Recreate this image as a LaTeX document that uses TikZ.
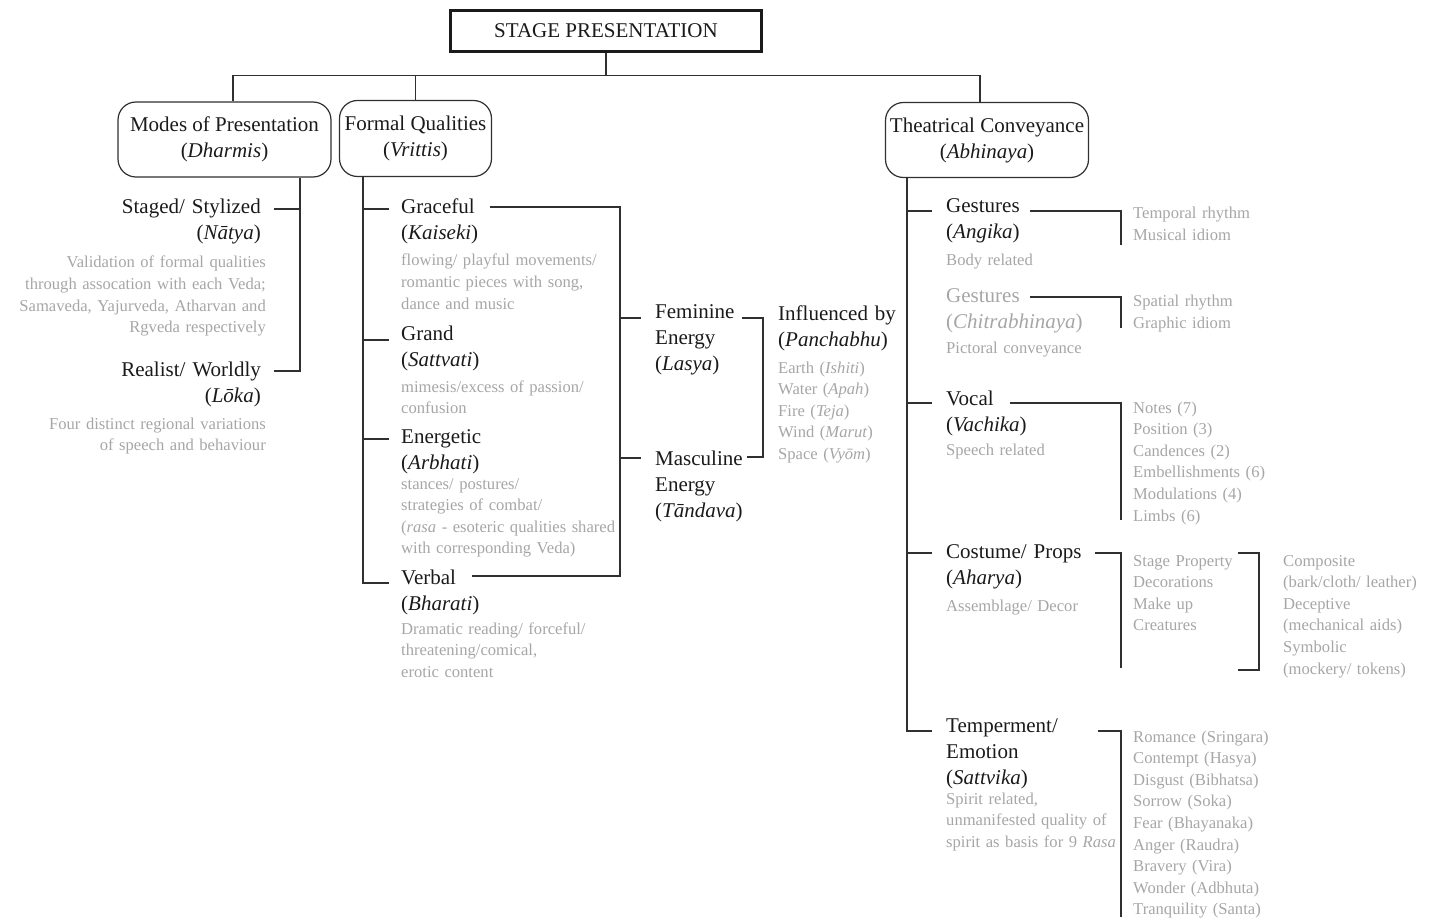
\documentclass[tikz,border=0pt]{standalone}
\usepackage{fontspec}
\setmainfont{Liberation Serif}
\usetikzlibrary{calc}
\definecolor{ink}{HTML}{1A1A1A}
\definecolor{soft}{HTML}{A6A6A6}
\definecolor{linec}{HTML}{303030}
\begin{document}
\begin{tikzpicture}[x=1pt,y=-1pt,
	wire/.style={draw=linec,line width=1.2pt},
	lbl/.style={inner sep=0pt,text=ink,font=\fontsize{21}{26}\selectfont,text width=280pt,align=left},
	gloss/.style={inner sep=0pt,text=soft,font=\fontsize{16.6}{21.6}\selectfont,text width=280pt,align=left},
	headbox/.style={draw=linec,line width=1.2pt,rounded corners=18pt,minimum height=75pt,inner sep=0pt,align=center,text=ink,font=\fontsize{21}{26}\selectfont}]
	\useasboundingbox (0,0) rectangle (1436,920);
	% top of the tree
	\node[draw=ink,line width=2.6pt,minimum width=311pt,minimum height=41.5pt,inner sep=0pt,text=ink,font=\fontsize{21}{24}\selectfont] (stage) at (606,31) {STAGE PRESENTATION};
	\node[headbox,minimum width=213pt] (modes) at (224.5,139.5) {Modes of Presentation\\(\textit{Dharmis})};
	\node[headbox,minimum width=152pt,minimum height=76pt] (quals) at (415.5,138.5) {Formal Qualities\\(\textit{Vrittis})};
	\node[headbox,minimum width=203pt] (theat) at (987,140) {Theatrical Conveyance\\(\textit{Abhinaya})};
	\coordinate (bus) at (0,76);
	\draw[wire] (stage.south) -- (stage.south |- bus);
	\draw[wire] ([xshift=8.5pt]modes.north) -- ++(0,-26) -| ([xshift=-7pt]theat.north);
	\draw[wire] (quals.north) -- (quals.north |- bus);
	% modes of presentation
	\node[lbl,anchor=base east,align=right] (natya) at (261,214) {Staged/ Stylized\\(\textit{Nātya})};
	\node[gloss,anchor=base east,align=right] (natyan) at (266,268) {Validation of formal qualities\\through assocation with each Veda;\\Samaveda, Yajurveda, Atharvan and\\Rgveda respectively};
	\node[lbl,anchor=base east,align=right] (loka) at (261,376) {Realist/ Worldly\\(\textit{Lōka})};
	\node[gloss,anchor=base east,align=right] (lokan) at (266,429) {Four distinct regional variations\\of speech and behaviour};
	\coordinate (mx) at (300,0);
	\draw[wire] (modes.south -| mx) |- ($(loka.base east)+(13,-5)$);
	\draw[wire] ($(natya.base east)+(13,-5)$) -- ++(26,0);
	% formal qualities
	\node[lbl,anchor=base west] (kaiseki) at (401,214) {Graceful\\(\textit{Kaiseki})};
	\node[gloss,anchor=base west] (kaisekin) at (401,266) {flowing/ playful movements/\\romantic pieces with song,\\dance and music};
	\node[lbl,anchor=base west] (sattvati) at (401,340) {Grand\\(\textit{Sattvati})};
	\node[gloss,anchor=base west] (sattvatin) at (401,392) {mimesis/excess of passion/\\confusion};
	\node[lbl,anchor=base west] (arbhati) at (401,443) {Energetic\\(\textit{Arbhati})};
	\node[gloss,anchor=base west] (arbhatin) at (401,489) {stances/ postures/\\strategies of combat/\\(\textit{rasa} - esoteric qualities shared\\with corresponding Veda)};
	\node[lbl,anchor=base west] (bharati) at (401,584) {Verbal\\(\textit{Bharati})};
	\node[gloss,anchor=base west] (bharatin) at (401,634) {Dramatic reading/ forceful/\\threatening/comical,\\erotic content};
	\coordinate (qx) at (363,0);
	\draw[wire] (quals.south -| qx) |- ($(bharati.base west)+(-12,-1)$);
	\foreach \n/\d in {kaiseki/5,sattvati/0,arbhati/4}
		\draw[wire] ($(\n.base west)+(-12,-\d)$) -- ++(-26,0);
	\draw[wire] ($(kaiseki.base west)+(89,-7)$) -| ($(bharati.base west)+(219,-8)$) -- ($(bharati.base west)+(71,-8)$);
	% energies
	\node[lbl,anchor=base west] (lasya) at (655,319) {Feminine\\Energy\\(\textit{Lasya})};
	\node[lbl,anchor=base west] (tandava) at (655,465) {Masculine\\Energy\\(\textit{Tāndava})};
	\draw[wire] ($(lasya.base west)+(-14,-1)$) -- ++(-21,0);
	\draw[wire] ($(tandava.base west)+(-14,-7)$) -- ++(-21,0);
	\draw[wire] ($(lasya.base west)+(87,-1)$) -| ($(tandava.base west)+(108,-8)$) -- ($(tandava.base west)+(92,-8)$);
	\node[lbl,anchor=base west] (pancha) at (778,320) {Influenced by\\(\textit{Panchabhu})};
	\node[gloss,anchor=base west] (panchan) at (778,373) {Earth (\textit{Ishiti})\\Water (\textit{Apah})\\Fire (\textit{Teja})\\Wind (\textit{Marut})\\Space (\textit{Vyōm})};
	% theatrical conveyance
	\node[lbl,anchor=base west] (angika) at (946,213) {Gestures\\(\textit{Angika})};
	\node[gloss,anchor=base west] (angikan) at (946,266) {Body related};
	\node[lbl,anchor=base west,text=soft] (chitra) at (946,302) {Gestures\\(\textit{Chitrabhinaya})};
	\node[gloss,anchor=base west] (chitran) at (946,353) {Pictoral conveyance};
	\node[lbl,anchor=base west] (vachika) at (946,405) {Vocal\\(\textit{Vachika})};
	\node[gloss,anchor=base west] (vachikan) at (946,455) {Speech related};
	\node[lbl,anchor=base west] (aharya) at (946,558) {Costume/ Props\\(\textit{Aharya})};
	\node[gloss,anchor=base west] (aharyan) at (946,611) {Assemblage/ Decor};
	\node[lbl,anchor=base west] (sattvika) at (946,732) {Temperment/\\Emotion\\(\textit{Sattvika})};
	\node[gloss,anchor=base west] (sattvikan) at (946,804) {Spirit related,\\unmanifested quality of\\spirit as basis for 9 \textit{Rasa}};
	\coordinate (tx) at (907,0);
	\draw[wire] (theat.south -| tx) |- ($(sattvika.base west)+(-14,-1)$);
	\foreach \n/\d in {angika/2,vachika/2,aharya/5}
		\draw[wire] ($(\n.base west)+(-14,-\d)$) -- ++(-25,0);
	% lists
	\node[gloss,anchor=base west] (rhythm) at (1133,219) {Temporal rhythm\\Musical idiom};
	\node[gloss,anchor=base west] (spatial) at (1133,307) {Spatial rhythm\\Graphic idiom};
	\node[gloss,anchor=base west] (notes) at (1133,413) {Notes (7)\\Position (3)\\Candences (2)\\Embellishments (6)\\Modulations (4)\\Limbs (6)};
	\node[gloss,anchor=base west] (props) at (1133,566) {Stage Property\\Decorations\\Make up\\Creatures};
	\node[gloss,anchor=base west] (kinds) at (1283,566) {Composite\\(bark/cloth/ leather)\\Deceptive\\(mechanical aids)\\Symbolic\\(mockery/ tokens)};
	\node[gloss,anchor=base west] (rasas) at (1133,742) {Romance (Sringara)\\Contempt (Hasya)\\Disgust (Bibhatsa)\\Sorrow (Soka)\\Fear (Bhayanaka)\\Anger (Raudra)\\Bravery (Vira)\\Wonder (Adbhuta)\\Tranquility (Santa)};
	\draw[wire] ($(angika.base west)+(84,-2)$) -| ($(rhythm.base west)+(-12,26)$);
	\draw[wire] ($(chitra.base west)+(84,-5)$) -| ($(spatial.base west)+(-12,21)$);
	\draw[wire] ($(vachika.base west)+(64,-2)$) -| ($(notes.base west)+(-12,107)$);
	\draw[wire] ($(aharya.base west)+(149,-5)$) -| ($(props.base west)+(-12,102)$);
	\draw[wire] ($(kinds.base west)+(-45,-13)$) -| ($(kinds.base west)+(-24,104)$) -- ($(kinds.base west)+(-45,104)$);
	\draw[wire] ($(sattvika.base west)+(152,-1)$) -| ($(rasas.base west)+(-12,175)$);
\end{tikzpicture}
\end{document}
